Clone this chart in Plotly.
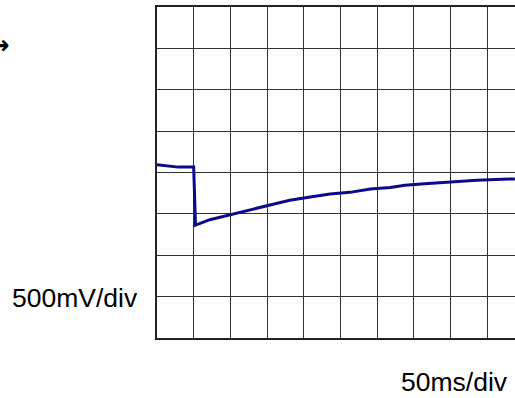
import plotly.graph_objects as go

# Time in ms (50 ms/div), voltage in mV (500 mV/div), screen divisions 10 x 8
time_ms = [0, 29, 50, 52.5, 72, 100, 127, 150, 181, 209, 236, 263, 291, 318, 338, 365, 396, 436, 480, 488]
volt_mv = [2095, 2065, 2065, 1365, 1430, 1490, 1550, 1600, 1665, 1705, 1740, 1760, 1800, 1820, 1845, 1865, 1885, 1905, 1920, 1920]

x_div = 50      # ms per division
y_div = 500     # mV per division
x_label = "50ms/div"
y_label = "500mV/div"

W, H = 515, 398
ml, mt, mb = 157, 7, 60
pw = W - ml

fig = go.Figure()
fig.add_trace(go.Scatter(
    x=time_ms, y=volt_mv, mode="lines",
    line=dict(color="#0a0a8c", width=3),
    hoverinfo="skip", showlegend=False,
))

fig.update_layout(
    width=W, height=H,
    margin=dict(l=ml, r=0, t=mt, b=mb),
    paper_bgcolor="white", plot_bgcolor="white",
    font=dict(family="Liberation Sans, Arial, sans-serif", color="black"),
    xaxis=dict(
        range=[0, pw / 36.67 * x_div], dtick=x_div, tick0=0,
        showgrid=True, gridcolor="#333333", gridwidth=1.2,
        showticklabels=False, ticks="", zeroline=False,
        showline=True, linecolor="#222222", linewidth=2, mirror=True,
        fixedrange=True,
    ),
    yaxis=dict(
        range=[0, 8 * y_div], dtick=y_div, tick0=0,
        showgrid=True, gridcolor="#333333", gridwidth=1.2,
        showticklabels=False, ticks="", zeroline=False,
        showline=True, linecolor="#222222", linewidth=2, mirror=False,
        fixedrange=True,
    ),
)

def px_x(px):
    return (px - ml) / pw

def px_y(py):
    return (H - mb - py) / (H - mt - mb)

fig.add_annotation(text=y_label, xref="paper", yref="paper",
                   x=px_x(74.5), y=px_y(298), xanchor="center", yanchor="middle",
                   showarrow=False, font=dict(size=26.5, color="black"))
fig.add_annotation(text=x_label, xref="paper", yref="paper",
                   x=px_x(454), y=px_y(382), xanchor="center", yanchor="middle",
                   showarrow=False, font=dict(size=26.5, color="black"))
fig.add_annotation(text="<b>→</b>", xref="paper", yref="paper",
                   x=px_x(12), y=px_y(45), xanchor="right", yanchor="middle",
                   showarrow=False, font=dict(size=26, color="black",
                                              family="DejaVu Sans, sans-serif"))

fig.write_html(
    "out.html",
    config={"displayModeBar": False},
    post_script="document.body.style.margin='0px';document.body.style.overflow='hidden';",
)
